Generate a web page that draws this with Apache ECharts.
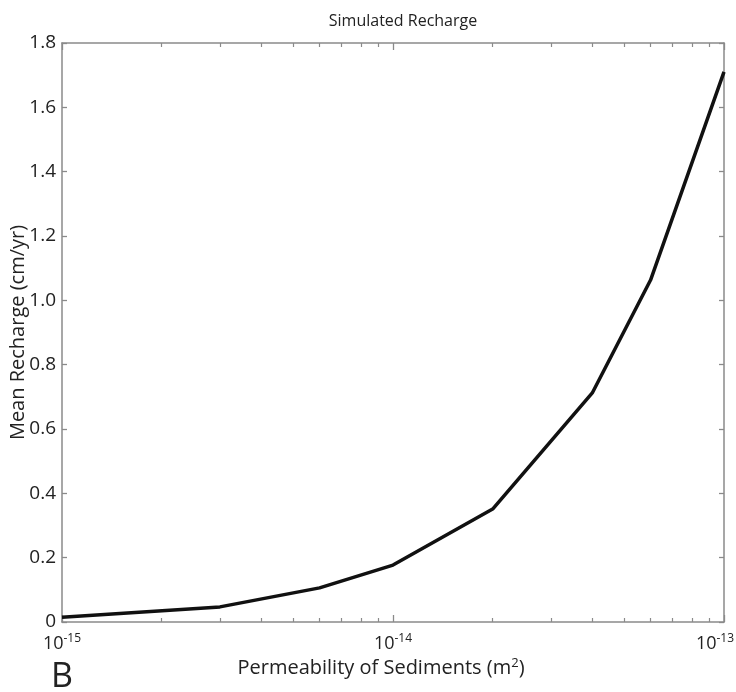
<!DOCTYPE html>
<html>
<head>
<meta charset="utf-8">
<script src="https://cdn.jsdelivr.net/npm/echarts@6/dist/echarts.min.js"></script>
<style>
  html, body { margin: 0; padding: 0; background: #fff; }
  #chart { width: 736px; height: 692px; }
</style>
</head>
<body>
<div id="chart"></div>
<script>
// Sediment permeability (m^2) and simulated mean recharge (cm/yr)
const permeability = [1e-15, 3e-15, 6e-15, 1e-14, 2e-14, 4e-14, 6e-14, 1e-13];
const recharge = [0.015, 0.047, 0.106, 0.177, 0.351, 0.712, 1.063, 1.71];

// Tick values
const majorTicks = [1e-15, 1e-14, 1e-13];
const minorTicks = [];
[-15, -14].forEach(function (e) {
  for (let m = 2; m <= 9; m++) minorTicks.push(Number((m + 'e' + e)));
});

const FONT = '"Open Sans", "Noto Sans", sans-serif';
const AXIS_COLOR = '#8a8a8a';
const TEXT_COLOR = '#222';

// Power-of-ten label; the last one is nudged left so it stays on the canvas
function expLabel(v) {
  const e = Math.round(Math.log10(v));
  return e === -13 ? '{b|10}{t|' + e + '}' : '{b|10}{s|' + e + '}';
}

const xBase = {
  type: 'log',
  min: 1e-15,
  max: 1e-13,
  logBase: 10,
  splitLine: { show: false },
  axisLine: { show: true, lineStyle: { color: AXIS_COLOR, width: 1.5 } }
};

const chart = echarts.init(document.getElementById('chart'));
chart.setOption({
  animation: false,
  backgroundColor: '#fff',
  title: {
    text: 'Simulated Recharge',
    left: 398,
    top: 8,
    textAlign: 'center',
    textStyle: { fontFamily: FONT, fontSize: 16, fontWeight: 'normal', color: TEXT_COLOR }
  },
  grid: { left: 62, right: 12, top: 43, bottom: 70, outerBoundsMode: 'none', containLabel: false },
  xAxis: [
    Object.assign({}, xBase, {
      position: 'bottom',
      name: '{a|Permeability of Sediments (m}{s|2}{a|)}',
      nameLocation: 'middle',
      nameGap: 35,
      nameMoveOverlap: false,
      nameTextStyle: {
        padding: [0, 24, 0, 0],
        rich: {
          a: { fontFamily: FONT, fontSize: 20, color: TEXT_COLOR },
          s: { fontFamily: FONT, fontSize: 13, color: TEXT_COLOR, verticalAlign: 'top', padding: [0, 0, 10, 0] }
        }
      },
      axisTick: { show: true, inside: true, length: 7, customValues: majorTicks, lineStyle: { color: AXIS_COLOR, width: 1.3 } },
      axisLabel: {
        show: true,
        customValues: majorTicks,
        margin: 11,
        hideOverlap: false,
        formatter: expLabel,
        rich: {
          b: { fontFamily: FONT, fontSize: 18, color: TEXT_COLOR },
          s: { fontFamily: FONT, fontSize: 12, color: TEXT_COLOR, verticalAlign: 'top', padding: [0, 0, 10, 0] },
          t: { fontFamily: FONT, fontSize: 12, color: TEXT_COLOR, verticalAlign: 'top', padding: [0, 18, 10, 0] }
        }
      }
    }),
    Object.assign({}, xBase, {
      position: 'bottom',
      axisLine: { show: false },
      axisTick: { show: true, inside: true, length: 4, customValues: minorTicks, lineStyle: { color: AXIS_COLOR, width: 1.2 } },
      axisLabel: { show: false }
    }),
    Object.assign({}, xBase, {
      position: 'top',
      axisTick: { show: true, inside: true, length: 7, customValues: majorTicks, lineStyle: { color: AXIS_COLOR, width: 1.3 } },
      axisLabel: { show: false }
    }),
    Object.assign({}, xBase, {
      position: 'top',
      axisLine: { show: false },
      axisTick: { show: true, inside: true, length: 4, customValues: minorTicks, lineStyle: { color: AXIS_COLOR, width: 1.2 } },
      axisLabel: { show: false }
    })
  ],
  yAxis: [
    {
      type: 'value',
      position: 'left',
      min: 0,
      max: 1.8,
      interval: 0.2,
      name: 'Mean Recharge (cm/yr)',
      nameLocation: 'middle',
      nameGap: 34,
      nameMoveOverlap: false,
      nameTextStyle: { fontFamily: FONT, fontSize: 20, color: TEXT_COLOR },
      splitLine: { show: false },
      axisLine: { show: true, lineStyle: { color: AXIS_COLOR, width: 1.5 } },
      axisTick: { show: true, inside: true, length: 5, lineStyle: { color: AXIS_COLOR, width: 1.3 } },
      axisLabel: {
        margin: 6,
        fontFamily: FONT,
        fontSize: 19,
        color: TEXT_COLOR,
        formatter: function (v) { return v === 0 ? '0' : v.toFixed(1); }
      }
    },
    {
      type: 'value',
      position: 'right',
      min: 0,
      max: 1.8,
      interval: 0.2,
      splitLine: { show: false },
      axisLine: { show: true, lineStyle: { color: AXIS_COLOR, width: 1.5 } },
      axisTick: { show: true, inside: true, length: 5, lineStyle: { color: AXIS_COLOR, width: 1.3 } },
      axisLabel: { show: false }
    }
  ],
  graphic: [
    {
      type: 'text',
      left: 51,
      top: 660,
      style: { text: 'B', fontFamily: FONT, fontSize: 34, fill: TEXT_COLOR }
    }
  ],
  series: [
    {
      type: 'line',
      xAxisIndex: 0,
      yAxisIndex: 0,
      data: permeability.map(function (p, i) { return [p, recharge[i]]; }),
      showSymbol: false,
      symbol: 'none',
      lineStyle: { color: '#111', width: 3.5 },
      clip: false
    }
  ]
});
</script>
</body>
</html>
